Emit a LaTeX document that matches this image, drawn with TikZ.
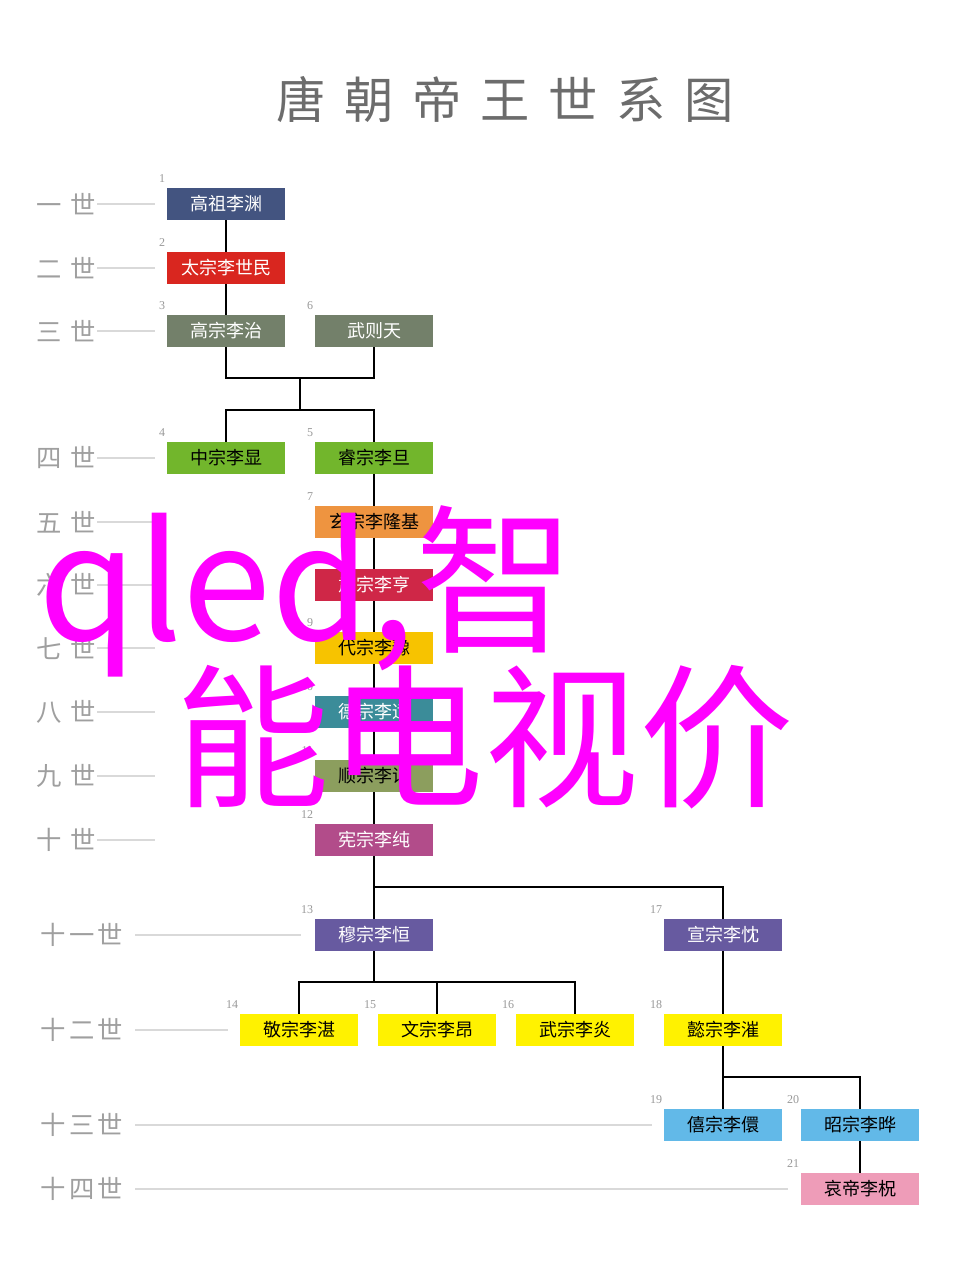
\documentclass[tikz,border=0pt]{standalone}
\usepackage{fontspec}
\setmainfont{Liberation Serif}
\newfontfamily\cjk{Noto Sans CJK SC}
\begin{document}
\begin{tikzpicture}[x=0.75pt,y=-0.75pt,
  box/.style={minimum width=88.5pt,minimum height=24pt,inner sep=0pt,font=\cjk\fontsize{13.5}{13.5}\selectfont},
  num/.style={font=\fontsize{9}{9}\selectfont,text=gray!80,anchor=south east,inner sep=1pt},
  gen/.style={font=\cjk\fontsize{19}{19}\selectfont\addfontfeatures{LetterSpace=12},text=gray!75,inner sep=0pt},
  gline/.style={draw=gray!30,line width=0.8pt},
  link/.style={draw=black,line width=2.2pt}]
\useasboundingbox (0,0) rectangle (960,1279);
\fill[white] (0,0) rectangle (960,1279);
\definecolor{wm}{RGB}{255,0,255}
\definecolor{c1}{HTML}{435480}
\definecolor{c2}{HTML}{D9261F}
\definecolor{c3}{HTML}{73806A}
\definecolor{c4}{HTML}{72B62C}
\definecolor{c7}{HTML}{EE9440}
\definecolor{c8}{HTML}{CF2747}
\definecolor{c9}{HTML}{F7C300}
\definecolor{c10}{HTML}{3B8C99}
\definecolor{c11}{HTML}{8C9E5E}
\definecolor{c12}{HTML}{B24C8A}
\definecolor{c13}{HTML}{675AA0}
\definecolor{c14}{HTML}{FFF200}
\definecolor{c19}{HTML}{62B9E8}
\definecolor{c21}{HTML}{EE9CB8}
\node[font=\cjk\fontsize{37}{37}\selectfont\addfontfeatures{LetterSpace=38},text=gray!85!black] (title) at (505,100) {唐朝帝王世系图};
% generation labels
\foreach \t/\y in {一 世/204,二 世/268,三 世/331,四 世/458,五 世/522,六 世/585,七 世/648,八 世/712,九 世/776,十 世/840}{
  \node[gen] at (66,\y) {\t};
  \draw[gline] (97,\y) -- (155,\y);
}
\foreach \t/\y/\e in {十一世/935/301,十二世/1030/228,十三世/1125/652,十四世/1189/788}{
  \node[gen] at (82,\y) {\t};
  \draw[gline] (135,\y) -- (\e,\y);
}
% connectors (behind boxes)
\coordinate (j1) at (226,378); \coordinate (j2) at (374,378);
\coordinate (j3) at (300,378); \coordinate (j4) at (300,410);
\coordinate (j5) at (226,410); \coordinate (j6) at (374,410);
\draw[link] (226,204) -- (226,331);
\draw[link] (226,331) -- (j1) -- (j2) -- (374,331);
\draw[link] (j3) -- (j4);
\draw[link] (226,458) -- (j5) -- (j6) -- (374,840);
\draw[link] (374,840) -- (374,887) -- (723,887) -- (723,1030);
\draw[link] (374,887) -- (374,935);
\draw[link] (374,935) -- (374,982);
\draw[link] (299,1030) -- (299,982) -- (575,982) -- (575,1030);
\draw[link] (437,982) -- (437,1030);
\draw[link] (723,1030) -- (723,1077) -- (860,1077) -- (860,1189);
\draw[link] (723,1077) -- (723,1125);
% boxes
\node[box,fill=c1,text=white] (n1) at (226,204) {高祖李渊};
\node[box,fill=c2,text=white] (n2) at (226,268) {太宗李世民};
\node[box,fill=c3,text=white] (n3) at (226,331) {高宗李治};
\node[box,fill=c3,text=white] (n6) at (374,331) {武则天};
\node[box,fill=c4,text=black] (n4) at (226,458) {中宗李显};
\node[box,fill=c4,text=black] (n5) at (374,458) {睿宗李旦};
\node[box,fill=c7,text=black] (n7) at (374,522) {玄宗李隆基};
\node[box,fill=c8,text=white] (n8) at (374,585) {肃宗李亨};
\node[box,fill=c9,text=black] (n9) at (374,648) {代宗李豫};
\node[box,fill=c10,text=white] (n10) at (374,712) {德宗李适};
\node[box,fill=c11,text=black] (n11) at (374,776) {顺宗李诵};
\node[box,fill=c12,text=white] (n12) at (374,840) {宪宗李纯};
\node[box,fill=c13,text=white] (n13) at (374,935) {穆宗李恒};
\node[box,fill=c13,text=white] (n17) at (723,935) {宣宗李忱};
\node[box,fill=c14,text=black] (n14) at (299,1030) {敬宗李湛};
\node[box,fill=c14,text=black] (n15) at (437,1030) {文宗李昂};
\node[box,fill=c14,text=black] (n16) at (575,1030) {武宗李炎};
\node[box,fill=c14,text=black] (n18) at (723,1030) {懿宗李漼};
\node[box,fill=c19,text=black] (n19) at (723,1125) {僖宗李儇};
\node[box,fill=c19,text=black] (n20) at (860,1125) {昭宗李晔};
\node[box,fill=c21,text=black] (n21) at (860,1189) {哀帝李柷};
\foreach \n/\l in {n1/1,n2/2,n3/3,n6/6,n4/4,n5/5,n7/7,n8/8,n9/9,n10/10,n11/11,n12/12,n13/13,n17/17,n14/14,n15/15,n16/16,n18/18,n19/19,n20/20,n21/21}{
  \node[num] at ([yshift=3pt]\n.north west) {\l};
}
% watermark
\node[anchor=base west,inner sep=0pt,text=wm,font=\cjk\fontsize{120}{120}\selectfont] (wm1) at (38,640) {qled,智};
\node[anchor=base west,inner sep=0pt,text=wm,font=\cjk\fontsize{116}{116}\selectfont] (wm2) at (175,795) {能电视价};
\end{tikzpicture}
\end{document}
